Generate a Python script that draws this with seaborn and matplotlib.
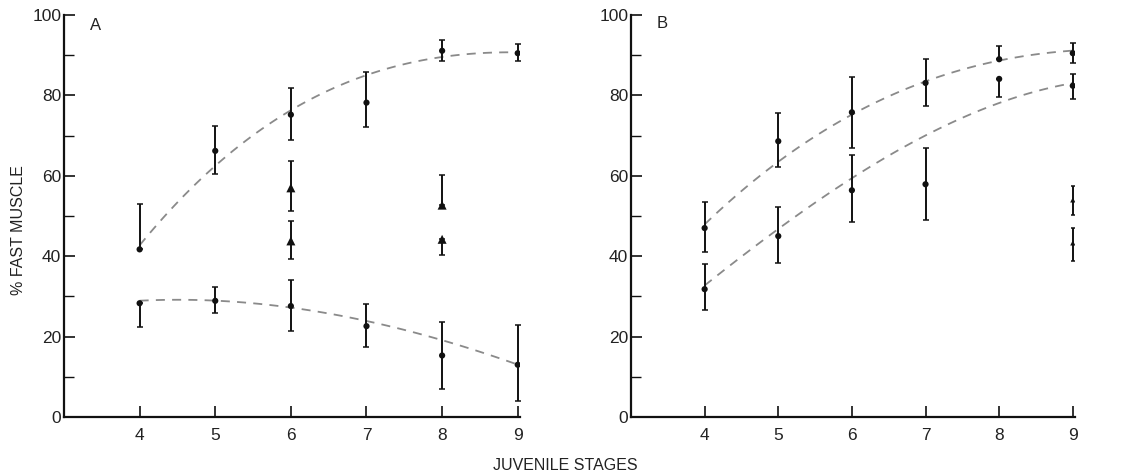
import numpy as np
import pandas as pd
import matplotlib
matplotlib.use("Agg")
import matplotlib.pyplot as plt
import seaborn as sns

# juvenile stages on the x axis
stages = [4, 5, 6, 7, 8, 9]

# panel A - upper circles (mean, error bar ends) and dashed fit
a_top = [41.7, 66.2, 75.2, 78.2, 91.1, 90.5]
a_top_lo = [41.7, 60.4, 68.9, 72.1, 88.6, 88.6]
a_top_hi = [52.9, 72.4, 81.9, 85.8, 93.7, 92.7]
a_top_fit = [42.8, 62.2, 76.5, 85.2, 89.3, 90.8]

# panel A - lower circles
a_bot = [28.3, 28.9, 27.6, 22.6, 15.3, 13.0]
a_bot_lo = [22.5, 25.8, 21.4, 17.5, 6.9, 4.0]
a_bot_hi = [28.3, 32.4, 34.1, 28.0, 23.7, 22.8]
a_bot_fit = [28.9, 29.0, 27.2, 23.8, 19.2, 13.0]

# panel A - triangles
a_tri_x = [6, 6, 8, 8]
a_tri = [57.0, 43.8, 52.7, 44.2]
a_tri_lo = [51.2, 39.4, 52.7, 40.3]
a_tri_hi = [63.8, 48.7, 60.1, 44.2]

# panel B - upper circles
b_top = [47.0, 68.6, 75.8, 83.1, 89.0, 90.5]
b_top_lo = [41.1, 62.3, 67.0, 77.4, 89.0, 88.0]
b_top_hi = [53.4, 75.6, 84.6, 89.0, 92.4, 93.1]
b_top_fit = [48.0, 63.2, 75.5, 83.5, 88.5, 91.2]

# panel B - lower circles
b_bot = [31.8, 45.0, 56.4, 57.9, 84.1, 82.4]
b_bot_lo = [26.6, 38.2, 48.4, 49.0, 79.7, 79.2]
b_bot_hi = [38.1, 52.3, 65.1, 66.8, 84.1, 85.4]
b_bot_fit = [32.7, 46.8, 59.5, 69.8, 78.3, 83.0]

# panel B - triangles
b_tri_x = [9, 9]
b_tri = [54.0, 43.3]
b_tri_lo = [50.3, 38.9]
b_tri_hi = [57.5, 46.9]

sns.set_style("ticks")
plt.rcParams['font.family'] = ['Liberation Sans', 'DejaVu Sans']
txt = '#222222'

fig = plt.figure(figsize=(11.3, 4.75), dpi=100)
ax_a = fig.add_axes([64 / 1130, 1 - 417 / 475, 456 / 1130, 402 / 475])
ax_b = fig.add_axes([631 / 1130, 1 - 417 / 475, 444 / 1130, 402 / 475])


def err_bars(ax, x, y, lo, hi, cap):
    y = np.array(y)
    yerr = [y - np.array(lo), np.array(hi) - y]
    ax.errorbar(x, y, yerr=yerr, fmt='none', ecolor='#111111',
                elinewidth=1.4, capsize=cap, capthick=1.1, zorder=2)


def fit_line(ax, y):
    # dashed curve through the read-off fit values (polynomial, like the paper)
    sns.regplot(x=stages, y=y, order=3, ci=None, scatter=False, ax=ax,
                line_kws=dict(color='#8a8a8a', lw=1.3, ls=(0, (5, 4))))


def circles(ax, x, y, s=20):
    sns.scatterplot(x=x, y=y, ax=ax, color='#111111', s=s,
                    marker='o', edgecolor='none', zorder=3)


def triangles(ax, x, y, s=42):
    sns.scatterplot(x=x, y=y, ax=ax, color='#111111', s=s,
                    marker='^', edgecolor='none', zorder=3)


# panel A
fit_line(ax_a, a_top_fit)
fit_line(ax_a, a_bot_fit)
err_bars(ax_a, stages, a_top, a_top_lo, a_top_hi, 2)
err_bars(ax_a, stages, a_bot, a_bot_lo, a_bot_hi, 2)
err_bars(ax_a, a_tri_x, a_tri, a_tri_lo, a_tri_hi, 2)
circles(ax_a, stages, a_top)
circles(ax_a, stages, a_bot)
triangles(ax_a, a_tri_x, a_tri)
ax_a.text(3.35, 97.5, 'A', fontsize=12, color=txt, va='center')

# panel B
fit_line(ax_b, b_top_fit)
fit_line(ax_b, b_bot_fit)
err_bars(ax_b, stages, b_top, b_top_lo, b_top_hi, 2)
err_bars(ax_b, stages, b_bot, b_bot_lo, b_bot_hi, 2)
err_bars(ax_b, b_tri_x, b_tri, b_tri_lo, b_tri_hi, 1.6)
circles(ax_b, stages, b_top)
circles(ax_b, stages, b_bot)
triangles(ax_b, b_tri_x, b_tri, s=14)
ax_b.text(3.35, 98, 'B', fontsize=12, color=txt, va='center')

for ax in (ax_a, ax_b):
    ax.set_xlim(3, 9.03)
    ax.set_ylim(0, 100)
    ax.set_xticks(stages)
    ax.set_yticks([0, 20, 40, 60, 80, 100])
    ax.set_yticks([10, 30, 50, 70, 90], minor=True)
    ax.tick_params(axis='both', which='major', direction='in', length=8,
                   width=1.2, color='#111111', labelsize=12.5, labelcolor=txt)
    ax.tick_params(axis='y', which='major', pad=2)
    ax.tick_params(axis='x', which='major', pad=8)
    ax.tick_params(axis='y', which='minor', direction='in', length=7,
                   width=1.0, color='#111111')
    ax.set_xlabel('')
    ax.set_ylabel('')
    for side in ('top', 'right'):
        ax.spines[side].set_visible(False)
    for side in ('left', 'bottom'):
        ax.spines[side].set_linewidth(1.6)
        ax.spines[side].set_color('#111111')
    ax.set_facecolor('white')

fig.text(0.5, 0.02, 'JUVENILE STAGES', ha='center', va='center',
         fontsize=11.5, color=txt)
fig.text(0.016, 0.515, '% FAST MUSCLE', ha='center', va='center',
         rotation=90, fontsize=11.5, color=txt)

fig.savefig('out.png', dpi=100, facecolor='white')
